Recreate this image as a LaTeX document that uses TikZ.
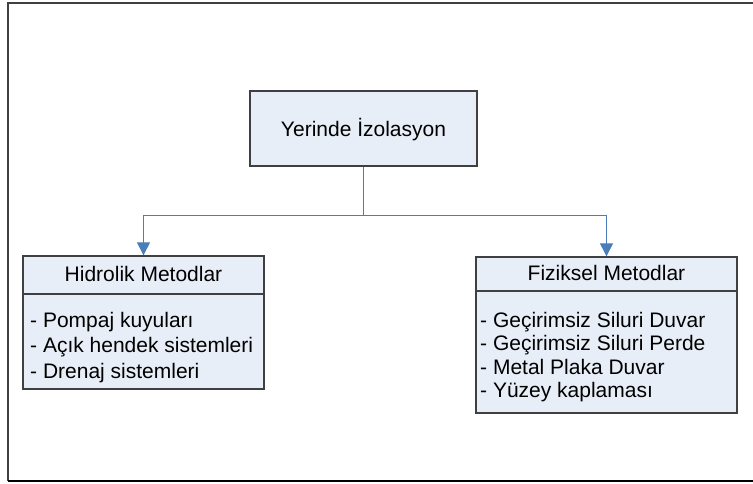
\documentclass[tikz,border=0pt]{standalone}
\usepackage{fontspec}
\setmainfont{Liberation Sans}
\usetikzlibrary{arrows.meta}
\definecolor{boxfill}{HTML}{E8EEF7}
\definecolor{boxline}{HTML}{404040}
\definecolor{conn}{HTML}{4A7EBB}
\tikzset{
  box/.style={draw=boxline, line width=1.3pt, fill=boxfill, inner sep=0pt, rectangle},
  lbl/.style={font=\fontsize{21}{24}\selectfont, inner sep=0pt, text=black},
  conline/.style={draw=conn, line width=1pt},
  conarrow/.style={conline, -{Triangle[length=13pt, width=13pt]}},
}
\begin{document}
\begin{tikzpicture}[x=1pt,y=-1pt]
\useasboundingbox (0,0) rectangle (753,484);
% outer frame
\draw[draw=black!75, line width=1.6pt] (754,3) -- (8,3) -- (8,481);
\draw[draw=black, line width=1.6pt] (8,481) -- (754,481);
% top box
\node[box, minimum width=227pt, minimum height=75pt] (top) at (363.5,128.5) {};
\node[lbl] (toptxt) at (363.5,130) {Yerinde İzolasyon};
% left box
\node[box, minimum width=241pt, minimum height=133pt] (L) at (143.5,322.5) {};
\draw[draw=boxline, line width=1.3pt] (L.west |- 0,294) -- (L.east |- 0,294);
\node[lbl] (Ltitle) at (143.5,274) {Hidrolik Metodlar};
\node[lbl, anchor=west, align=left, font=\fontsize{21}{25.5}\selectfont] (Llist) at (30,347.5)
  {- Pompaj kuyuları\\- Açık hendek sistemleri\\- Drenaj sistemleri};
% right box
\node[box, minimum width=261pt, minimum height=156pt] (R) at (606.5,335) {};
\draw[draw=boxline, line width=1.3pt] (R.west |- 0,291) -- (R.east |- 0,291);
\node[lbl] (Rtitle) at (606.5,273) {Fiziksel Metodlar};
\node[lbl, anchor=west, align=left, font=\fontsize{21}{23.3}\selectfont] (Rlist) at (480,357)
  {- Geçirimsiz Siluri Duvar\\- Geçirimsiz Siluri Perde\\- Metal Plaka Duvar\\- Yüzey kaplaması};
% connectors
\coordinate (j) at (363.5,216);
\draw[conline] (top.south) -- (j);
\draw[conarrow] (j) -| (L.north);
\draw[conarrow] (j) -| (R.north);
\end{tikzpicture}
\end{document}
